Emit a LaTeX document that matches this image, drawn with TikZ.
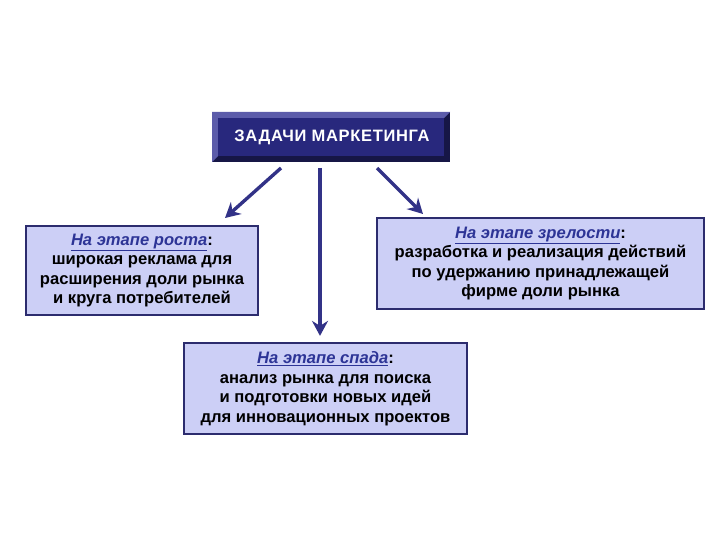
\documentclass[tikz,border=0pt]{standalone}
\usepackage{fontspec}
\setmainfont{Liberation Sans}
\usetikzlibrary{arrows.meta}
\definecolor{navy}{RGB}{40,40,125}
\definecolor{navylight}{RGB}{92,92,170}
\definecolor{navydark}{RGB}{22,22,70}
\definecolor{boxfill}{RGB}{204,207,246}
\definecolor{boxline}{RGB}{44,44,110}
\definecolor{headblue}{RGB}{45,52,150}
\definecolor{arrowcol}{RGB}{50,50,135}
\newcommand{\hd}[1]{\textcolor{headblue}{\underline{\textit{#1}}}:}
\begin{document}
\begin{tikzpicture}[x=1pt,y=-1pt,
  stagebox/.style={draw=boxline,line width=2.2pt,fill=boxfill,inner sep=0pt,
    font=\bfseries\fontsize{16.6}{19.5}\selectfont,align=center},
  conn/.style={draw=arrowcol,line width=3.4pt,-{Stealth[width=16pt,length=15pt,inset=5pt]}}]
\useasboundingbox (0,0) rectangle (720,540);
% title bevel box
\fill[navydark] (212,112) rectangle (450,162);
\fill[navylight] (212,112) -- (450,112) -- (444,118) -- (218,118) -- (218,156) -- (212,162) -- cycle;
\fill[navy] (218,118) rectangle (444,156);
\node[text=white,font=\bfseries\fontsize{16.5}{19}\selectfont\addfontfeature{LetterSpace=4}] (title) at (332,137) {ЗАДАЧИ МАРКЕТИНГА};
\coordinate (tl) at (281,168);
\coordinate (tm) at (320,168);
\coordinate (tr) at (377,168);
% boxes
\node[stagebox,minimum width=232pt,minimum height=89pt] (grow) at (142,270.5)
 {\hd{На этапе роста}\\широкая реклама для\\расширения доли рынка\\и круга потребителей};
\node[stagebox,minimum width=327pt,minimum height=91pt] (mature) at (540.5,263.5)
 {\hd{На этапе зрелости}\\разработка и реализация действий\\по удержанию принадлежащей\\фирме доли рынка};
\node[stagebox,minimum width=283pt,minimum height=91pt] (decline) at (325.5,388.5)
 {\hd{На этапе спада}\\анализ рынка для поиска\\и подготовки новых идей\\для инновационных проектов};
% arrows
\draw[conn] (tl) -- (225,218);
\draw[conn] (tm) -- ([yshift=6pt]decline.north -| tm);
\draw[conn] (tr) -- (423,214);
\end{tikzpicture}
\end{document}
